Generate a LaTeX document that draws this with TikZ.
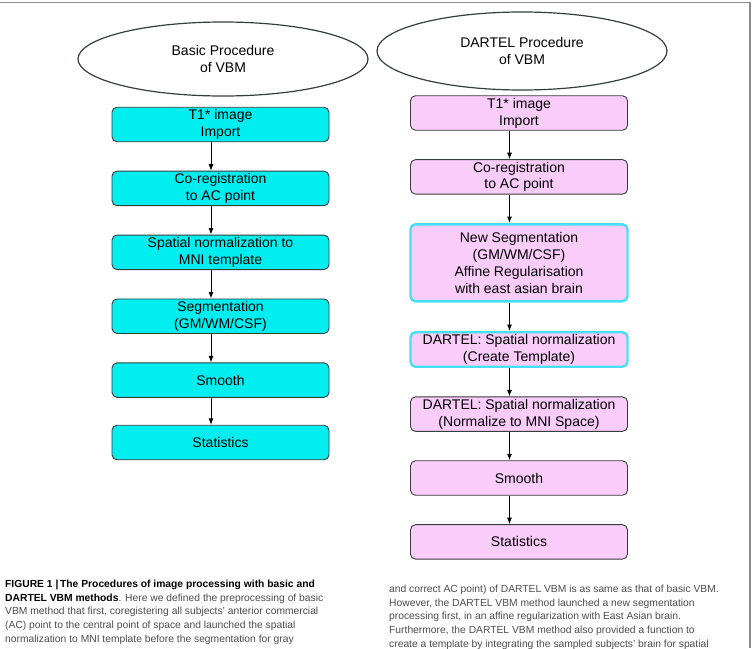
\documentclass[tikz,border=0pt]{standalone}
\usepackage{fontspec}
\setmainfont{Liberation Sans}
\usetikzlibrary{shapes.geometric, arrows.meta}
\usetikzlibrary{positioning}
\definecolor{boxcyan}{RGB}{0,238,240}
\definecolor{boxpink}{RGB}{250,204,250}
\definecolor{rimcyan}{RGB}{70,224,242}
\definecolor{rimgray}{RGB}{55,60,60}
\definecolor{captext}{RGB}{75,75,75}
\definecolor{framegray}{RGB}{140,140,140}

\begin{document}
\begin{tikzpicture}[x=1pt, y=-1pt,
  every node/.style = {font=\fontsize{14}{16.8}\selectfont, align=center},
  title/.style = {draw=rimgray, ellipse, line width=1.2pt, inner sep=0pt},
  basic/.style = {draw=rimgray, rounded corners=5pt, fill=boxcyan, line width=0.9pt,
                  minimum width=217pt, minimum height=34.5pt, inner sep=1pt},
  dartel/.style = {basic, fill=boxpink},
  newstep/.style = {dartel, draw=rimcyan, line width=2.4pt},
  flow/.style = {-{Latex[length=6.5pt,width=5pt]}, line width=0.9pt},
  caption/.style = {font=\fontsize{10.3}{13.6}\selectfont, align=left, inner sep=0pt,
                    text=captext, anchor=north west},
  node distance=28.5pt]
  \useasboundingbox (0,0) rectangle (752,648);
  \draw[framegray, line width=1.2pt] (0,2.5) -- (750,2.5) -- (750,648);

  % basic VBM
  \node[title, minimum width=290pt, minimum height=74pt] (b0) at (223,59) {Basic Procedure\\of VBM};
  \node[basic] (b1) at (220.5,124.5) {T1* image\\Import};
  \node[basic, below=of b1] (b2) {Co-registration\\to AC point};
  \node[basic, below=of b2] (b3) {Spatial normalization to\\MNI template};
  \node[basic, below=of b3] (b4) {Segmentation\\(GM/WM/CSF)};
  \node[basic, below=of b4] (b5) {Smooth};
  \node[basic, below=27pt of b5] (b6) {Statistics};

  % DARTEL VBM
  \node[title, minimum width=290pt, minimum height=78pt] (d0) at (522,51) {DARTEL Procedure\\of VBM};
  \node[dartel] (d1) at (519,113) {T1* image\\Import};
  \node[dartel, below=of d1] (d2) {Co-registration\\to AC point};
  \node[newstep, below=of d2, minimum height=77pt] (d3) {New Segmentation\\(GM/WM/CSF)\\Affine Regularisation\\with east asian brain};
  \node[newstep, below=of d3] (d4) {DARTEL: Spatial normalization\\(Create Template)};
  \node[dartel, below=of d4] (d5) {DARTEL: Spatial normalization\\(Normalize to MNI Space)};
  \node[dartel, below=of d5] (d6) {Smooth};
  \node[dartel, below=of d6] (d7) {Statistics};

  \foreach \a/\b in {b1/b2, b2/b3, b3/b4, b4/b5, b5/b6,
                     d1/d2, d2/d3, d3/d4, d4/d5, d5/d6, d6/d7}
    \draw[flow] ([xshift=-9.5pt]\a.south) -- ([xshift=-9.5pt]\b.north);

  % caption
  \node[caption] (c1) at (5,580) {\textcolor{black}{\textbf{FIGURE 1 |\,The Procedures of image processing with basic and}}\\
    \textcolor{black}{\textbf{DARTEL VBM methods}}. Here we defined the preprocessing of basic\\
    VBM method that first, coregistering all subjects' anterior commercial\\
    (AC) point to the central point of space and launched the spatial\\
    normalization to MNI template before the segmentation for gray};
  \node[caption] (c2) at (389,585) {and correct AC point) of DARTEL VBM is as same as that of basic VBM.\\
    However, the DARTEL VBM method launched a new segmentation\\
    processing first, in an affine regularization with East Asian brain.\\
    Furthermore, the DARTEL VBM method also provided a function to\\
    create a template by integrating the sampled subjects' brain for spatial};
\end{tikzpicture}
\end{document}
